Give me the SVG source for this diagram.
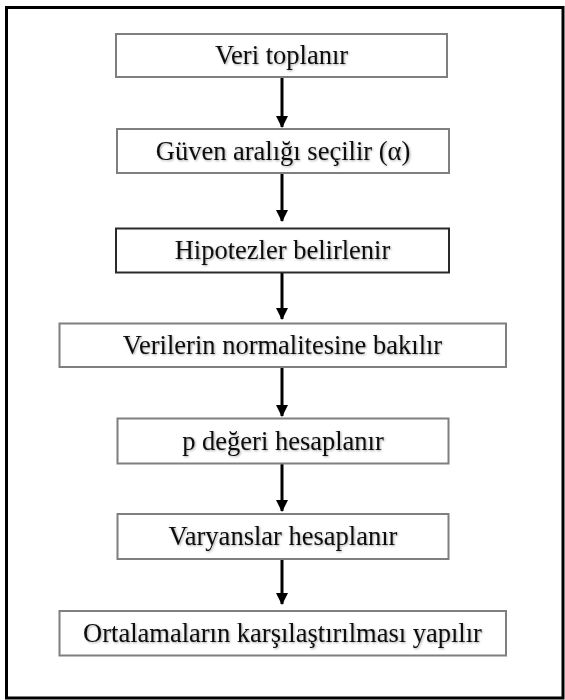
<svg xmlns="http://www.w3.org/2000/svg" width="565" height="700" viewBox="0 0 565 700">
  <style>
    .box { fill: #ffffff; stroke: #7f7f7f; stroke-width: 2; }
    .box.dark { stroke: #2a2a2a; }
    .label { font-family: "Liberation Serif", "Times New Roman", serif; font-size: 26.5px; fill: #111111; text-anchor: middle; filter: url(#soft); }
    .conn { stroke: #000000; stroke-width: 3; fill: none; }
  </style>
  <defs>
    <marker id="arrow" viewBox="0 0 12 12" refX="11" refY="6" markerWidth="12" markerHeight="12" markerUnits="userSpaceOnUse" orient="auto">
      <path d="M0,0 L12,6 L0,12 Z" fill="#000000"/>
    </marker>
    <!-- light shadow behind the labels -->
    <filter id="soft" x="-5%" y="-30%" width="110%" height="160%">
      <feDropShadow dx="1" dy="1" stdDeviation="1" flood-color="#000000" flood-opacity="0.35"/>
    </filter>
  </defs>

  <rect width="565" height="700" fill="#ffffff"/>
  <!-- outer frame -->
  <rect x="6.5" y="7.5" width="556.5" height="690.5" fill="none" stroke="#000000" stroke-width="3"/>

  <g id="connectors">
    <line class="conn" x1="282" y1="78" x2="282" y2="127" marker-end="url(#arrow)"/>
    <line class="conn" x1="282" y1="174" x2="282" y2="221" marker-end="url(#arrow)"/>
    <line class="conn" x1="282" y1="273" x2="282" y2="319" marker-end="url(#arrow)"/>
    <line class="conn" x1="282" y1="368" x2="282" y2="416" marker-end="url(#arrow)"/>
    <line class="conn" x1="282" y1="464" x2="282" y2="511" marker-end="url(#arrow)"/>
    <line class="conn" x1="282" y1="560" x2="282" y2="604" marker-end="url(#arrow)"/>
  </g>

  <g id="n1">
    <rect class="box" x="116" y="34" width="331" height="43"/>
    <text class="label" x="281.5" y="64">Veri toplanır</text>
  </g>
  <g id="n2">
    <rect class="box" x="117" y="129" width="332" height="44"/>
    <text class="label" x="283" y="160">Güven aralığı seçilir (α)</text>
  </g>
  <g id="n3">
    <rect class="box dark" x="116" y="228.5" width="333" height="44"/>
    <text class="label" x="282.5" y="259">Hipotezler belirlenir</text>
  </g>
  <g id="n4">
    <rect class="box" x="59.5" y="323.5" width="446.5" height="43.5"/>
    <text class="label" x="282.5" y="353.5">Verilerin normalitesine bakılır</text>
  </g>
  <g id="n5">
    <rect class="box" x="117.5" y="418.5" width="331" height="45"/>
    <text class="label" x="283" y="449.5">p değeri hesaplanır</text>
  </g>
  <g id="n6">
    <rect class="box" x="117.5" y="514" width="331" height="45"/>
    <text class="label" x="283" y="545">Varyanslar hesaplanır</text>
  </g>
  <g id="n7">
    <rect class="box" x="59.5" y="611" width="446.5" height="44.5"/>
    <text class="label" x="282.5" y="642">Ortalamaların karşılaştırılması yapılır</text>
  </g>
</svg>
